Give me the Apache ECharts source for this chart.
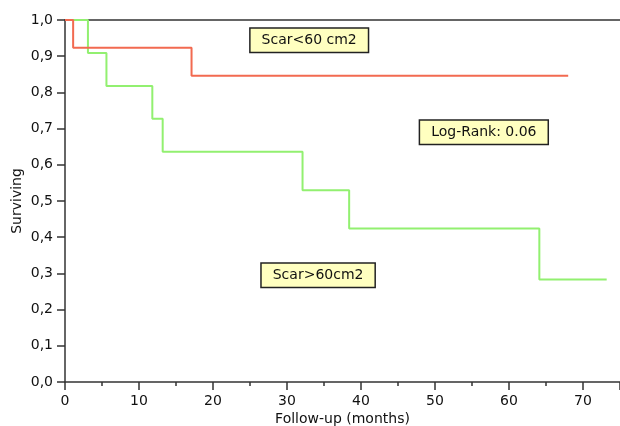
<!DOCTYPE html>
<html><head><meta charset="utf-8">
<script src="https://cdn.jsdelivr.net/npm/echarts@6/dist/echarts.min.js"></script>
<style>html,body{margin:0;padding:0;background:#fff}#c{width:620px;height:426px}</style>
</head><body><div id="c"></div>
<script>
// Kaplan-Meier step points: [months, survival]
const scarSmallTimes = [0, 1.1, 17.1, 68.0];
const scarSmallSurv  = [1.0, 0.923, 0.846, 0.846];
const scarLargeTimes = [0, 3.1, 5.6, 11.8, 13.2, 32.1, 38.4, 64.1, 73.2];
const scarLargeSurv  = [1.0, 0.909, 0.818, 0.727, 0.636, 0.530, 0.424, 0.283, 0.283];
const yTickLabels = ['0,0','0,1','0,2','0,3','0,4','0,5','0,6','0,7','0,8','0,9','1,0'];
const annotations = [
  { text: 'Scar<60 cm2', x: 33.0, y: 0.944 },
  { text: 'Log-Rank: 0.06', x: 56.6, y: 0.690 },
  { text: 'Scar>60cm2', x: 34.2, y: 0.295 }
];

const chart = echarts.init(document.getElementById('c'));
const font = 'DejaVu Sans';
const axisCol = '#333';
const toPairs = (t, s) => t.map((v, i) => [v, s[i]]);

chart.setOption({
  animation: false,
  backgroundColor: '#fff',
  grid: { left: 65, top: 20, right: 0, bottom: 44, containLabel: false, outerBoundsMode: 'none' },
  xAxis: [{
    type: 'value', min: 0, max: 75, interval: 10,
    name: 'Follow-up (months)', nameLocation: 'middle', nameGap: 30, nameMoveOverlap: false,
    nameTextStyle: { fontFamily: font, fontSize: 14, color: '#111' },
    axisLine: { lineStyle: { color: axisCol, width: 1.5 } },
    axisTick: { show: true, length: 8, lineStyle: { color: axisCol, width: 1.5 } },
    minorTick: { show: true, splitNumber: 2, length: 4, lineStyle: { color: axisCol, width: 1.5 } },
    axisLabel: { fontFamily: font, fontSize: 14, color: '#111', margin: 12,
      formatter: v => (v % 10 === 0 && v <= 70) ? String(v) : '' },
    splitLine: { show: false }
  }, {
    type: 'value', min: 0, max: 75, position: 'top',
    axisLine: { show: true, lineStyle: { color: axisCol, width: 1.5 } },
    axisTick: { show: false }, axisLabel: { show: false }, splitLine: { show: false }
  }],
  yAxis: {
    type: 'value', min: 0, max: 1, interval: 0.1,
    name: 'Surviving', nameLocation: 'middle', nameGap: 41, nameRotate: 90, nameMoveOverlap: false,
    nameTextStyle: { fontFamily: font, fontSize: 14, color: '#111' },
    axisLine: { show: true, lineStyle: { color: axisCol, width: 1.5 } },
    axisTick: { show: true, length: 8, lineStyle: { color: axisCol, width: 1.5 } },
    axisLabel: { fontFamily: font, fontSize: 14, color: '#111', margin: 12,
      formatter: v => yTickLabels[Math.round(v * 10)] },
    splitLine: { show: false }
  },
  series: [{
    name: 'Scar<60 cm2', type: 'line', step: 'end', symbol: 'none',
    data: toPairs(scarSmallTimes, scarSmallSurv),
    lineStyle: { color: '#f26a50', width: 2 }, z: 3
  }, {
    name: 'Scar>60cm2', type: 'line', step: 'end', symbol: 'none',
    data: toPairs(scarLargeTimes, scarLargeSurv),
    lineStyle: { color: '#92f070', width: 2 }, z: 2
  }]
});

// annotation boxes positioned from data coordinates
const g = annotations.map(a => {
  const p = chart.convertToPixel({ gridIndex: 0 }, [a.x, a.y]);
  return {
    type: 'text', x: p[0], y: p[1], z: 10,
    style: {
      text: a.text, fontFamily: font, fontSize: 14, fill: '#111',
      align: 'center', verticalAlign: 'middle',
      backgroundColor: '#ffffc0', borderColor: '#222', borderWidth: 1.5,
      padding: [5, 11, 4, 11]
    }
  };
});
chart.setOption({ graphic: g });
</script></body></html>
